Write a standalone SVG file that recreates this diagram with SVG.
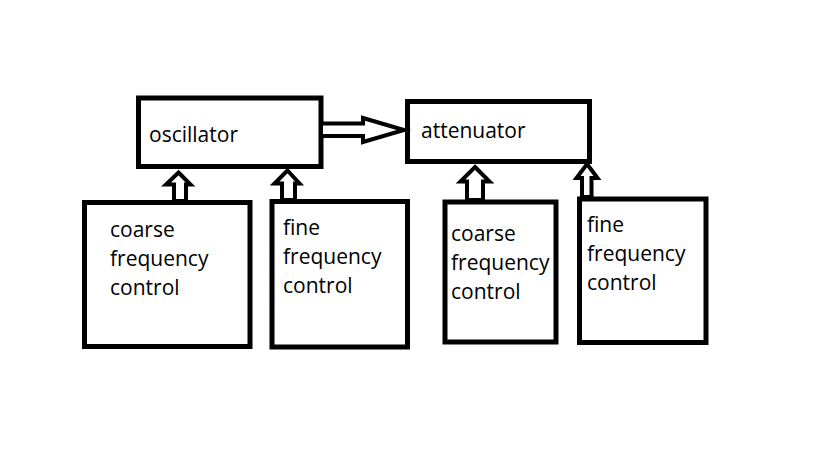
<svg xmlns="http://www.w3.org/2000/svg" width="819" height="460" viewBox="0 0 819 460">
<style>
.box{fill:#fff;stroke:#000;stroke-width:5}
.arr{fill:#fff;stroke:#000;stroke-width:4;stroke-linejoin:miter}
text{font-family:"Open Sans","Noto Sans",sans-serif;font-size:21px;fill:#000}
</style>
<rect width="819" height="460" fill="#fff"/>
<g id="oscillator">
<rect class="box" x="138.5" y="98" width="182.5" height="68.5"/>
<text x="149" y="142">oscillator</text>
</g>
<g id="attenuator">
<rect class="box" x="407.5" y="101.5" width="182" height="60"/>
<text x="421" y="138">attenuator</text>
</g>
<g id="coarse1">
<rect class="box" x="84.5" y="202.5" width="165.5" height="144"/>
<text x="110" y="237">coarse</text>
<text x="110" y="266">frequency</text>
<text x="110" y="295">control</text>
</g>
<g id="fine1">
<rect class="box" x="272" y="201.5" width="135.5" height="145.5"/>
<text x="283" y="235">fine</text>
<text x="283" y="264">frequency</text>
<text x="283" y="293">control</text>
</g>
<g id="coarse2">
<rect class="box" x="445" y="202" width="111" height="140"/>
<text x="451" y="241">coarse</text>
<text x="451" y="270">frequency</text>
<text x="451" y="299">control</text>
</g>
<g id="fine2">
<rect class="box" x="579.5" y="199" width="126.5" height="143.5"/>
<text x="587" y="232">fine</text>
<text x="587" y="261">frequency</text>
<text x="587" y="290">control</text>
</g>
<g id="connectors">
<polygon class="arr" points="321,123.5 363,123.5 363,118 404,130 363,142 363,136 321,136"/>
<polygon class="arr" points="178.5,172.5 190.5,184.5 186,184.5 186,201 174,201 174,184.5 166,184.5"/>
<polygon class="arr" points="287.5,170.5 299.5,183.5 295,183.5 295,200 282,200 282,183.5 274.5,183.5"/>
<polygon class="arr" points="475,167 489.5,181.5 483,181.5 483,200 467,200 467,181.5 460.5,181.5"/>
<polygon class="arr" points="587,164 597.5,178 591.5,178 591.5,197 582,197 582,178 576.5,178"/>
</g>
</svg>
